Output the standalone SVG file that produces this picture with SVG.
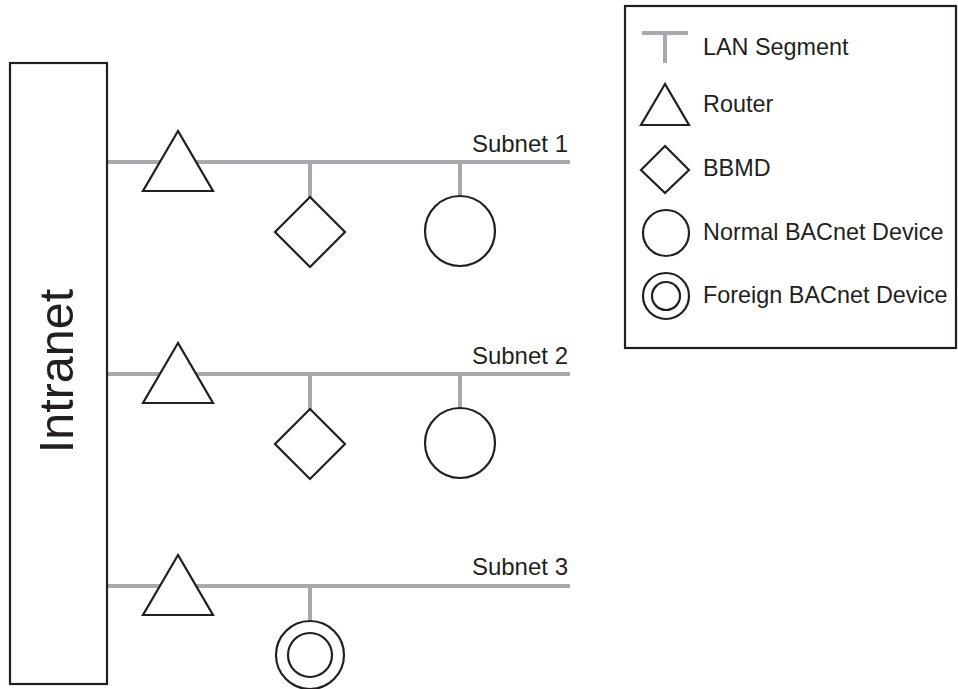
<svg xmlns="http://www.w3.org/2000/svg" width="958" height="689" viewBox="0 0 958 689">
<style>
.lan{stroke:#a7a9ac;stroke-width:4;fill:none}
.sym{stroke:#231f20;stroke-width:2.2;fill:#fff}
.lbl{font-family:"Liberation Sans",Arial,sans-serif;font-size:24px;fill:#231f20}
.leg{font-size:23.4px}
</style>
<rect width="958" height="689" fill="#fff"/>
<g id="connectors">
<line class="lan" x1="107" y1="162" x2="570" y2="162"/>
<line class="lan" x1="310" y1="162" x2="310" y2="197"/>
<line class="lan" x1="460" y1="162" x2="460" y2="196"/>
<line class="lan" x1="107" y1="374" x2="570" y2="374"/>
<line class="lan" x1="310" y1="374" x2="310" y2="409"/>
<line class="lan" x1="460" y1="374" x2="460" y2="408"/>
<line class="lan" x1="107" y1="586" x2="570" y2="586"/>
<line class="lan" x1="310" y1="586" x2="310" y2="620"/>
</g>
<g id="intranet">
<rect class="sym" x="10" y="63" width="97" height="621"/>
<text class="lbl" style="font-size:48.5px" transform="translate(73,371) rotate(-90)" text-anchor="middle">Intranet</text>
</g>
<g id="subnet1-label"><text class="lbl" x="568" y="152" text-anchor="end">Subnet 1</text></g>
<g id="subnet2-label"><text class="lbl" x="568" y="364" text-anchor="end">Subnet 2</text></g>
<g id="subnet3-label"><text class="lbl" x="568" y="575" text-anchor="end">Subnet 3</text></g>
<g id="router1"><polygon class="sym" points="178,131 143,191 213,191"/></g>
<g id="bbmd1"><polygon class="sym" points="310,197 345,232 310,267 275,232"/></g>
<g id="device1"><circle class="sym" cx="460" cy="231" r="35"/></g>
<g id="router2"><polygon class="sym" points="178,343 143,403 213,403"/></g>
<g id="bbmd2"><polygon class="sym" points="310,409 345,444 310,479 275,444"/></g>
<g id="device2"><circle class="sym" cx="460" cy="443" r="35"/></g>
<g id="router3"><polygon class="sym" points="178,555 143,615 213,615"/></g>
<g id="foreign3"><circle class="sym" cx="310" cy="655" r="34"/><circle class="sym" cx="310" cy="655" r="22"/></g>
<g id="legend">
<rect class="sym" x="625" y="6" width="331" height="342"/>
<line class="lan" x1="642" y1="33" x2="688" y2="33"/>
<line class="lan" x1="665" y1="33" x2="665" y2="63"/>
<text class="lbl leg" x="703" y="55">LAN Segment</text>
<polygon class="sym" points="665,84 641,125 689,125"/>
<text class="lbl leg" x="703" y="112">Router</text>
<polygon class="sym" points="665,146 689,170 665,193 641,170"/>
<text class="lbl leg" x="703" y="176">BBMD</text>
<circle class="sym" cx="666" cy="233" r="23"/>
<text class="lbl leg" x="703" y="240">Normal BACnet Device</text>
<circle class="sym" cx="666" cy="296" r="23"/>
<circle class="sym" cx="666" cy="296" r="14"/>
<text class="lbl leg" x="703" y="303">Foreign BACnet Device</text>
</g>
</svg>
